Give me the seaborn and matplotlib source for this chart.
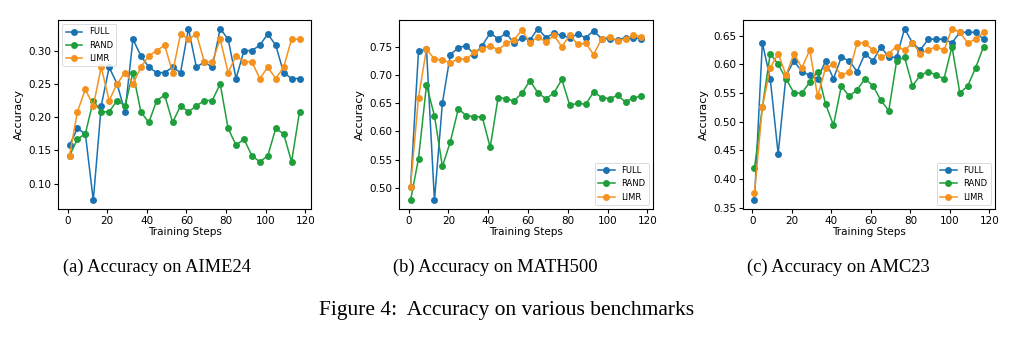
import numpy as np
import pandas as pd
import matplotlib
matplotlib.use("Agg")
import matplotlib.pyplot as plt
import seaborn as sns

steps = list(range(1, 118, 4))

aime_full = [0.158, 0.183, 0.175, 0.075, 0.217, 0.275, 0.250, 0.208, 0.317, 0.292,
             0.275, 0.267, 0.267, 0.275, 0.267, 0.333, 0.275, 0.283, 0.275, 0.333,
             0.317, 0.258, 0.300, 0.300, 0.308, 0.325, 0.308, 0.267, 0.258, 0.258]
aime_rand = [0.142, 0.167, 0.175, 0.225, 0.208, 0.208, 0.225, 0.217, 0.267, 0.208,
             0.192, 0.225, 0.233, 0.192, 0.217, 0.208, 0.217, 0.225, 0.225, 0.250,
             0.183, 0.158, 0.167, 0.142, 0.133, 0.142, 0.183, 0.175, 0.133, 0.208]
aime_limr = [0.142, 0.208, 0.242, 0.217, 0.275, 0.225, 0.250, 0.267, 0.250, 0.275,
             0.292, 0.300, 0.308, 0.267, 0.325, 0.317, 0.325, 0.283, 0.283, 0.317,
             0.267, 0.292, 0.283, 0.283, 0.258, 0.275, 0.258, 0.275, 0.317, 0.317]

math_full = [0.502, 0.742, 0.746, 0.478, 0.650, 0.736, 0.748, 0.752, 0.736, 0.752,
             0.774, 0.764, 0.774, 0.756, 0.766, 0.762, 0.782, 0.766, 0.774, 0.770,
             0.766, 0.772, 0.766, 0.778, 0.764, 0.764, 0.762, 0.766, 0.766, 0.764]
math_rand = [0.478, 0.552, 0.682, 0.628, 0.538, 0.582, 0.640, 0.628, 0.626, 0.626,
             0.572, 0.660, 0.658, 0.654, 0.668, 0.690, 0.668, 0.658, 0.668, 0.692,
             0.646, 0.650, 0.648, 0.670, 0.660, 0.658, 0.664, 0.652, 0.660, 0.662]
math_limr = [0.502, 0.660, 0.746, 0.728, 0.726, 0.722, 0.728, 0.728, 0.740, 0.746,
             0.752, 0.744, 0.756, 0.762, 0.780, 0.756, 0.768, 0.758, 0.770, 0.750,
             0.770, 0.754, 0.756, 0.736, 0.764, 0.768, 0.760, 0.764, 0.770, 0.768]

amc_full = [0.3625, 0.6375, 0.575, 0.4437, 0.581, 0.606, 0.5875, 0.581, 0.575, 0.606,
            0.575, 0.6125, 0.606, 0.5875, 0.619, 0.606, 0.631, 0.6125, 0.6125, 0.6625,
            0.6375, 0.625, 0.644, 0.644, 0.644, 0.6375, 0.656, 0.656, 0.656, 0.644]
amc_rand = [0.419, 0.525, 0.619, 0.600, 0.575, 0.550, 0.550, 0.569, 0.5875, 0.531,
            0.494, 0.5625, 0.544, 0.556, 0.575, 0.5625, 0.5375, 0.519, 0.606, 0.6125,
            0.5625, 0.581, 0.5875, 0.581, 0.575, 0.631, 0.550, 0.5625, 0.594, 0.631]
amc_limr = [0.375, 0.525, 0.594, 0.619, 0.581, 0.619, 0.594, 0.625, 0.544, 0.594,
            0.600, 0.581, 0.5875, 0.6375, 0.6375, 0.625, 0.6125, 0.619, 0.631, 0.625,
            0.6375, 0.619, 0.625, 0.631, 0.625, 0.6625, 0.656, 0.6375, 0.644, 0.656]

methods = ["FULL", "RAND", "LIMR"]
captions = ["(a) Accuracy on AIME24", "(b) Accuracy on MATH500", "(c) Accuracy on AMC23"]
figure_caption = "Figure 4:  Accuracy on various benchmarks"

panels = [
    (aime_full, aime_rand, aime_limr),
    (math_full, math_rand, math_limr),
    (amc_full, amc_rand, amc_limr),
]
legend_locs = ["upper left", "lower right", "lower right"]

colors = {"FULL": "#1a72b0", "RAND": "#1f9e3c", "LIMR": "#f5921e"}

fig = plt.figure(figsize=(10.14, 3.42), dpi=100)
fig.patch.set_facecolor("white")

axes_pos = [
    (58 / 1014, 133 / 342, 253 / 1014, 189 / 342),
    (399 / 1014, 133 / 342, 254 / 1014, 189 / 342),
    (743 / 1014, 133 / 342, 252 / 1014, 189 / 342),
]
cap_x = [157 / 1014, 495 / 1014, 838 / 1014]

for i, (series, loc) in enumerate(zip(panels, legend_locs)):
    ax = fig.add_axes(axes_pos[i])
    frames = []
    for m, vals in zip(methods, series):
        frames.append(pd.DataFrame({"step": steps, "acc": vals, "method": m}))
    df = pd.concat(frames, ignore_index=True)
    sns.lineplot(data=df, x="step", y="acc", hue="method", hue_order=methods,
                 palette=colors, marker="o", markersize=5, markeredgewidth=0,
                 linewidth=1.1, ax=ax)
    ax.set_xlabel("Training Steps", fontsize=7.5, labelpad=1)
    ax.set_ylabel("Accuracy", fontsize=8, labelpad=3)
    ax.set_xticks([0, 20, 40, 60, 80, 100, 120])
    ax.tick_params(labelsize=7.5, length=3, width=0.8, pad=2)
    for s in ax.spines.values():
        s.set_linewidth(0.8)
        s.set_color("black")
    leg = ax.legend(loc=loc, fontsize=6, title=None, frameon=True,
                    handlelength=2.0, borderpad=0.4, labelspacing=0.5)
    leg.get_frame().set_linewidth(0.6)
    fig.text(cap_x[i], 1 - 267 / 342, captions[i], ha="center", va="center",
             family="Liberation Serif", fontsize=13.3)

fig.text(507 / 1014, 1 - 311 / 342, figure_caption, ha="center", va="center",
         family="Liberation Serif", fontsize=15.5)

fig.savefig("out.png", dpi=100, facecolor="white")
